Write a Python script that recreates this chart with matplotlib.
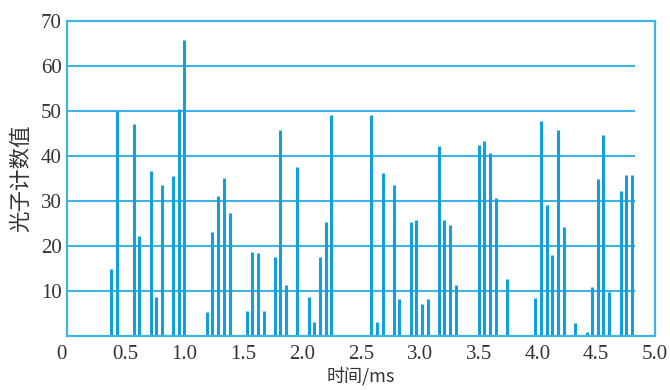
import matplotlib
matplotlib.use("Agg")
import matplotlib.pyplot as plt

# data
times = [0.372, 0.423, 0.567, 0.615, 0.712, 0.759, 0.805, 0.901, 0.952, 0.997,
         1.190, 1.237, 1.286, 1.335, 1.383, 1.528, 1.573, 1.622, 1.673, 1.769,
         1.814, 1.862, 1.957, 2.058, 2.103, 2.151, 2.200, 2.247, 2.585, 2.636,
         2.685, 2.778, 2.826, 2.921, 2.968, 3.016, 3.072, 3.166, 3.208, 3.257,
         3.305, 3.450, 3.501, 3.548, 3.597, 3.645, 3.741, 3.980, 4.033, 4.079,
         4.127, 4.178, 4.226, 4.322, 4.419, 4.464, 4.513, 4.560, 4.609, 4.708,
         4.756, 4.804]
counts = [15.0, 50.0, 47.2, 22.2, 36.6, 8.8, 33.6, 35.6, 50.5, 65.8,
          5.3, 23.2, 31.2, 35.1, 27.4, 5.7, 18.6, 18.4, 5.7, 17.6,
          45.8, 11.4, 37.5, 8.8, 3.2, 17.6, 25.4, 49.2, 49.2, 3.1,
          36.3, 33.5, 8.2, 25.4, 25.9, 7.2, 8.2, 42.3, 25.9, 24.8,
          11.4, 0.3, 42.5, 43.4, 40.6, 30.7, 12.6, 8.4, 47.9, 29.1,
          18.1, 45.8, 24.2, 2.9, 0.9, 10.9, 34.9, 44.8, 9.8, 32.2,
          35.9, 35.9]
xticks = [0, 0.5, 1.0, 1.5, 2.0, 2.5, 3.0, 3.5, 4.0, 4.5, 5.0]
xticklabels = ["0", "0.5", "1.0", "1.5", "2.0", "2.5", "3.0", "3.5", "4.0", "4.5", "5.0"]
yticks = [10, 20, 30, 40, 50, 60, 70]
ylabels = ["10", "20", "30", "40", "50", "60", "70"]
grid_end = 4.83

bar_color = "#12a0dd"
grid_color = "#3fb2e6"

plt.rcParams["font.family"] = ["Liberation Serif", "Noto Sans CJK SC"]

fig = plt.figure(figsize=(6.7, 3.9), dpi=100)
ax = fig.add_axes([0.1, 0.138, 0.8776, 0.808])

ax.hlines(yticks[:-1], 0, grid_end, colors=grid_color, lw=1.5, zorder=1)
ax.vlines(times, 0, counts, colors=bar_color, lw=2.2, zorder=2)

ax.set_xlim(0, 5.0)
ax.set_ylim(0, 70)
ax.set_xticks(xticks)
ax.set_xticklabels(xticklabels, fontsize=15, color="#333333")
ax.set_yticks(yticks)
ax.set_yticklabels(ylabels, fontsize=15, color="#333333")
ax.tick_params(axis="both", length=0)
ax.tick_params(axis="x", pad=6)
ax.tick_params(axis="y", pad=4)
ax.get_xticklabels()[0].set_ha("right")

for s in ax.spines.values():
    s.set_color(grid_color)
    s.set_linewidth(1.6)

cjk = ["Noto Sans CJK SC", "Liberation Serif"]
ax.set_xlabel("时间/ms", family=cjk, fontsize=13, color="#333333", labelpad=2)
ax.set_ylabel("光子计数值", family=cjk, fontsize=15.5, color="#333333", labelpad=6)

fig.savefig("out.png", dpi=100)
